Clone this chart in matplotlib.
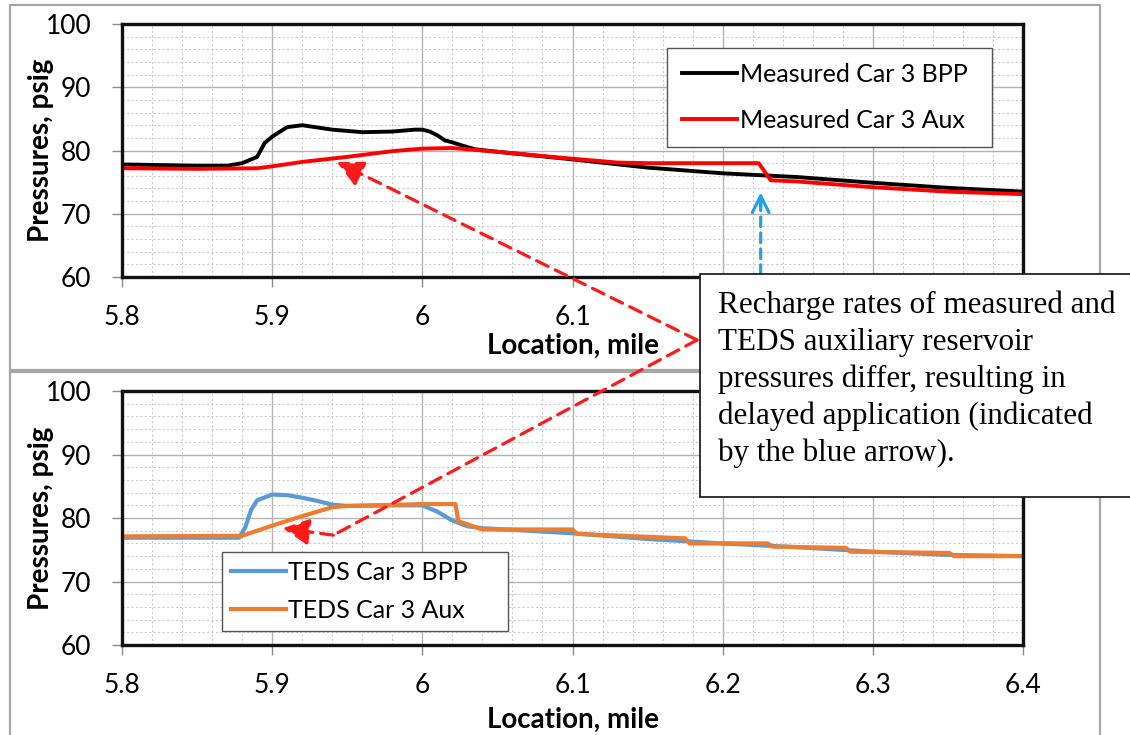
import matplotlib.pyplot as plt
from matplotlib.patches import Rectangle, ConnectionPatch
from matplotlib.ticker import MultipleLocator

# Measured car 3 (top panel)
meas_x_bpp = [5.80, 5.85, 5.87, 5.88, 5.89, 5.895, 5.90, 5.91, 5.92, 5.94, 5.96, 5.98,
              5.995, 6.00, 6.005, 6.01, 6.015, 6.02, 6.025, 6.035, 6.05, 6.10, 6.15,
              6.20, 6.25, 6.30, 6.35, 6.40]
meas_bpp = [77.8, 77.6, 77.6, 78.0, 79.0, 81.2, 82.2, 83.7, 84.0, 83.3, 82.9, 83.0,
            83.3, 83.3, 83.0, 82.4, 81.6, 81.3, 80.9, 80.2, 79.8, 78.6, 77.3,
            76.4, 75.8, 74.9, 74.1, 73.5]
meas_x_aux = [5.80, 5.85, 5.89, 5.90, 5.92, 5.95, 5.98, 6.00, 6.02, 6.05, 6.10, 6.13,
              6.15, 6.20, 6.224, 6.232, 6.25, 6.30, 6.35, 6.40]
meas_aux = [77.2, 77.1, 77.2, 77.5, 78.2, 79.0, 79.9, 80.3, 80.4, 79.8, 78.7, 78.1,
            78.0, 78.0, 78.0, 75.3, 75.1, 74.2, 73.5, 73.1]

# TEDS car 3 (bottom panel)
teds_x_bpp = [5.80, 5.878, 5.882, 5.886, 5.89, 5.90, 5.91, 5.92, 5.93, 5.94, 5.95, 5.98,
              6.00, 6.01, 6.02, 6.03, 6.04, 6.10, 6.15, 6.20, 6.25, 6.30, 6.35, 6.40]
teds_bpp = [76.9, 76.9, 78.5, 81.3, 82.8, 83.7, 83.6, 83.2, 82.7, 82.1, 81.9, 82.0,
            82.0, 81.0, 79.6, 78.7, 78.4, 77.6, 76.7, 76.0, 75.4, 74.7, 74.2, 74.0]
teds_x_aux = [5.80, 5.88, 5.90, 5.92, 5.94, 5.95, 5.97, 6.00, 6.022, 6.024, 6.04, 6.10,
              6.103, 6.175, 6.178, 6.23, 6.233, 6.282, 6.285, 6.351, 6.354, 6.40]
teds_aux = [77.1, 77.2, 78.8, 80.3, 81.7, 81.9, 82.0, 82.2, 82.2, 79.5, 78.2, 78.2,
            77.5, 76.8, 76.0, 76.0, 75.5, 75.3, 74.7, 74.5, 74.0, 74.0]

x_ticks = [5.8, 5.9, 6.0, 6.1, 6.2, 6.3, 6.4]
x_tick_labels = ["5.8", "5.9", "6", "6.1", "6.2", "6.3", "6.4"]

note = ("Recharge rates of measured and\n"
        "TEDS auxiliary reservoir\n"
        "pressures differ, resulting in\n"
        "delayed application (indicated\n"
        "by the blue arrow).")

W, H = 1130, 735
plt.rcParams['font.family'] = ['Lato', 'DejaVu Sans']


def px(x, y):
    # pixel position (from top-left) -> figure fraction
    return x / W, 1 - y / H


def style_axes(ax, xlabel_y):
    ax.set_xlim(5.8, 6.4)
    ax.set_ylim(60, 100)
    ax.xaxis.set_minor_locator(MultipleLocator(0.02))
    ax.yaxis.set_major_locator(MultipleLocator(10))
    ax.yaxis.set_minor_locator(MultipleLocator(2))
    ax.set_xticks(x_ticks, x_tick_labels)
    ax.grid(which='major', color='#b3b3b3', lw=1.0)
    ax.grid(which='minor', color='#cccccc', lw=0.8, ls=(0, (2, 2)))
    ax.set_axisbelow(True)
    ax.tick_params(which='major', length=7, width=1, color='#8c8c8c', labelsize=19)
    ax.tick_params(axis='x', pad=13)
    ax.tick_params(axis='y', pad=15)
    ax.tick_params(which='minor', length=0)
    for s in ax.spines.values():
        s.set_linewidth(2.4)
        s.set_color('#111111')
    ax.set_xlabel("Location, mile", fontsize=20, fontweight='bold')
    ax.set_ylabel("Pressures, psig", fontsize=20, fontweight='bold')
    ax.xaxis.set_label_coords(0.5, xlabel_y)
    ax.yaxis.set_label_coords(-0.076, 0.5)


fig = plt.figure(figsize=(W / 100, H / 100), dpi=100)

# panel frames
for y0, y1 in [(5, 370), (372, 745)]:
    x0, yb = px(10, y1)
    x1, yt = px(1100, y0)
    fig.add_artist(Rectangle((x0, yb), x1 - x0, yt - yb, transform=fig.transFigure,
                             fill=False, ec='#a6a6a6', lw=1.6, zorder=1))

ax1 = fig.add_axes([0.108, 0.6231, 0.7973, 0.3442])
ax2 = fig.add_axes([0.108, 0.1224, 0.7973, 0.3456])

ax1.plot(meas_x_bpp, meas_bpp, color='black', lw=2.8, label="Measured Car 3 BPP")
ax1.plot(meas_x_aux, meas_aux, color='#ff0000', lw=2.8, label="Measured Car 3 Aux")
style_axes(ax1, -0.221)
# tick labels under the note box are hidden in the original
for lab in ax1.get_xticklabels()[4:]:
    lab.set_visible(False)
ax1.legend(loc='upper left', bbox_to_anchor=(0.605, 0.522, 0.3606, 0.383), mode='expand',
           borderaxespad=0, fontsize=18, fancybox=False, framealpha=1, edgecolor='#555555',
           handlelength=2.2, handletextpad=0.1, labelspacing=0.9, borderpad=0.6)

ax2.plot(teds_x_bpp, teds_bpp, color='#5b9bd5', lw=3.0, label="TEDS Car 3 BPP")
ax2.plot(teds_x_aux, teds_aux, color='#ed7d31', lw=3.0, label="TEDS Car 3 Aux")
style_axes(ax2, -0.244)
ax2.legend(loc='upper left', bbox_to_anchor=(0.111, 0.051, 0.317, 0.315), mode='expand',
           borderaxespad=0, fontsize=18, fancybox=False, framealpha=1, edgecolor='#555555',
           handlelength=2.2, handletextpad=0.1, labelspacing=0.6, borderpad=0.35)

red = '#ff1a1a'
head = dict(arrowstyle='-|>,head_length=0.8,head_width=0.4', mutation_scale=20)

# red arrow to top panel
fig.add_artist(ConnectionPatch(px(697, 340), (5.943, 78.2), 'figure fraction', ax1.transData,
                               color=red, lw=2.3, ls=(0, (4, 2.5)), zorder=5, **head))
# red arrow to bottom panel (two segments)
fig.add_artist(ConnectionPatch(px(697, 340), (5.9407, 77.3), 'figure fraction', ax2.transData,
                               color=red, lw=2.3, ls=(0, (4, 2.5)), zorder=5))
fig.add_artist(ConnectionPatch((5.9407, 77.3), (5.907, 78.4), ax2.transData, ax2.transData,
                               color=red, lw=2.3, ls=(0, (4, 2.5)), zorder=5, **head))

# blue arrow (delayed application)
blue = '#1fa3e6'
fig.add_artist(ConnectionPatch((6.2253, 60.4), (6.2253, 72.0), ax1.transData, ax1.transData,
                               color=blue, lw=2.3, ls=(0, (3, 2)), zorder=5))
fig.add_artist(ConnectionPatch((6.2253, 71.0), (6.2253, 73.4), ax1.transData, ax1.transData,
                               color=blue, lw=2.3, zorder=5,
                               arrowstyle='->,head_length=0.6,head_width=0.3', mutation_scale=20))

# note box
bx0, by0 = px(700, 497)
bx1, by1 = px(1140, 274)
fig.add_artist(Rectangle((bx0, by0), bx1 - bx0, by1 - by0, transform=fig.transFigure,
                         fc='white', ec='#222222', lw=1.3, zorder=6))
tx, ty = px(718, 291)
fig.text(tx, ty, note, ha='left', va='top', fontsize=22.4, family='Liberation Serif',
         linespacing=1.34, zorder=7)

fig.savefig('out.png', dpi=100)
